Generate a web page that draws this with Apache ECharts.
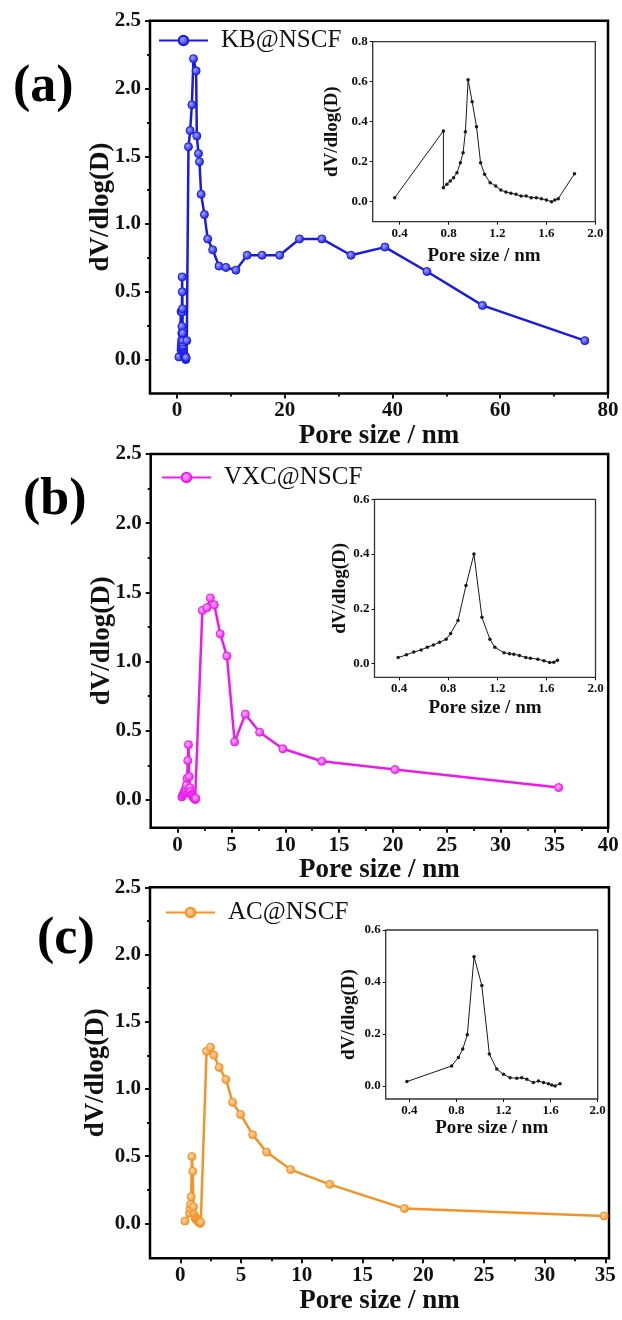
<!DOCTYPE html>
<html>
<head>
<meta charset="utf-8">
<script src="https://cdn.jsdelivr.net/npm/echarts@6/dist/echarts.min.js"></script>
<style>
  html, body { margin: 0; padding: 0; background: #fff; }
  #chart { width: 622px; height: 1320px; }
</style>
</head>
<body>
<div id="chart"></div>
<script>
// ---------- (a) KB@NSCF : pore size (nm) vs dV/dlog(D) ----------
const kbName = 'KB@NSCF';
const kbMicroX = [0.36, 0.758, 0.758, 0.787, 0.814, 0.841, 0.869, 0.897, 0.919, 0.938, 0.96, 0.993, 1.029, 1.062, 1.095, 1.14, 1.186, 1.228, 1.269, 1.31, 1.352, 1.393, 1.435, 1.476, 1.518, 1.559, 1.6, 1.642, 1.669, 1.697, 1.83];
const kbMicroY = [0.02, 0.354, 0.07, 0.087, 0.104, 0.12, 0.145, 0.195, 0.245, 0.35, 0.61, 0.50, 0.375, 0.195, 0.137, 0.095, 0.078, 0.058, 0.048, 0.042, 0.037, 0.028, 0.028, 0.02, 0.02, 0.015, 0.008, 0.0, 0.008, 0.015, 0.14];
const kbMesoX = [2.14, 2.45, 2.77, 3.07, 3.56, 3.69, 4.0, 4.18, 4.49, 5.1, 5.71, 6.63, 7.8, 9.1, 10.94, 13.03, 15.8, 19.06, 22.75, 26.9, 32.3, 38.6, 46.4, 56.7, 75.7];
const kbMesoY = [1.57, 1.69, 1.88, 2.22, 2.13, 1.65, 1.52, 1.46, 1.22, 1.07, 0.89, 0.81, 0.69, 0.68, 0.66, 0.77, 0.77, 0.77, 0.89, 0.89, 0.77, 0.83, 0.65, 0.40, 0.14];

// ---------- (b) VXC@NSCF ----------
const vxcName = 'VXC@NSCF';
const vxcMicroX = [0.393, 0.46, 0.52, 0.58, 0.63, 0.68, 0.73, 0.783, 0.82, 0.88, 0.945, 1.01, 1.075, 1.14, 1.18, 1.254, 1.3, 1.335, 1.38, 1.432, 1.47, 1.53, 1.58, 1.627, 1.66, 1.69];
const vxcMicroY = [0.022, 0.032, 0.042, 0.05, 0.06, 0.068, 0.078, 0.089, 0.11, 0.157, 0.285, 0.40, 0.169, 0.089, 0.06, 0.04, 0.036, 0.034, 0.03, 0.022, 0.02, 0.016, 0.01, 0.004, 0.005, 0.012];
const vxcMesoX = [2.3, 2.73, 3.04, 3.41, 3.96, 4.58, 5.3, 6.29, 7.62, 9.78, 13.4, 20.2, 35.4];
const vxcMesoY = [1.37, 1.39, 1.46, 1.41, 1.20, 1.04, 0.42, 0.62, 0.49, 0.37, 0.28, 0.22, 0.09];

// ---------- (c) AC@NSCF ----------
const acName = 'AC@NSCF';
const acMicroX = [0.38, 0.76, 0.817, 0.854, 0.893, 0.95, 1.016, 1.08, 1.143, 1.2, 1.256, 1.313, 1.355, 1.398, 1.454, 1.497, 1.54, 1.582, 1.61, 1.638, 1.68];
const acMicroY = [0.017, 0.077, 0.11, 0.142, 0.197, 0.497, 0.387, 0.123, 0.065, 0.045, 0.032, 0.03, 0.032, 0.026, 0.013, 0.019, 0.013, 0.009, 0.004, 0.0, 0.009];
const acMesoX = [2.16, 2.49, 2.77, 3.2, 3.76, 4.3, 4.96, 5.95, 7.1, 9.08, 12.3, 18.45, 34.9];
const acMesoY = [1.28, 1.31, 1.25, 1.16, 1.07, 0.90, 0.81, 0.66, 0.53, 0.40, 0.29, 0.11, 0.055];

// ---------- tick values ----------
const mainYLabels = [0, 0.5, 1.0, 1.5, 2.0, 2.5];
const mainYMinor = [0.25, 0.75, 1.25, 1.75, 2.25];
const kbXLabels = [0, 20, 40, 60, 80];
const kbXMinor = [10, 30, 50, 70];
const vxcXLabels = [0, 5, 10, 15, 20, 25, 30, 35, 40];
const vxcXMinor = [2.5, 7.5, 12.5, 17.5, 22.5, 27.5, 32.5, 37.5];
const acXLabels = [0, 5, 10, 15, 20, 25, 30, 35];
const acXMinor = [2.5, 7.5, 12.5, 17.5, 22.5, 27.5, 32.5];
const insetXLabels = [0.4, 0.8, 1.2, 1.6, 2.0];
const kbInsetYLabels = [0, 0.2, 0.4, 0.6, 0.8];
const insetYLabels = [0, 0.2, 0.4, 0.6];

const xTitle = 'Pore size / nm';
const yTitle = 'dV/dlog(D)';

const FONT = 'Liberation Serif';
const INK = '#111';

const zip = (xs, ys) => xs.map((x, i) => [x, ys[i]]);

const grids = [], xAxes = [], yAxes = [], series = [], legends = [], titles = [];

// Axis that carries the tick labels and the axis title (no tick marks of its own).
function labelAxis(gridIndex, o) {
  return {
    type: 'value', gridIndex, min: o.min, max: o.max, position: o.position,
    name: o.name, nameLocation: 'middle', nameGap: o.nameGap, nameMoveOverlap: false,
    nameTextStyle: { fontFamily: FONT, fontWeight: 'bold', fontSize: o.nameSize, color: INK },
    axisLine: { show: false, onZero: false },
    splitLine: { show: false },
    axisTick: { show: false },
    axisLabel: { show: true, customValues: o.labels, margin: o.margin, fontFamily: FONT, fontWeight: 'bold',
                 fontSize: o.labelSize, color: INK, formatter: o.fmt }
  };
}

// Tick-only axis sitting on the frame edge, ticks turned towards the plot.
function tickAxis(gridIndex, o) {
  return {
    type: 'value', gridIndex, min: o.min, max: o.max, position: o.position, offset: o.offset,
    axisLine: { show: false, onZero: false },
    splitLine: { show: false },
    axisLabel: { show: false },
    axisTick: { show: true, inside: true, length: o.len, customValues: o.ticks,
                lineStyle: { color: INK, width: o.width } }
  };
}

const fmt1 = v => Number(v).toFixed(1);
const fmt0 = v => String(Math.round(v));

function panel(p) {
  const m = p.main;
  // main plot
  const g = grids.length;
  grids.push({ left: m.left, top: m.top, width: m.width, height: m.height,
               show: true, borderColor: '#000', borderWidth: 2.5, backgroundColor: 'transparent' });
  const xi = xAxes.length;
  xAxes.push(labelAxis(g, { min: p.xMin, max: p.xMax, position: 'bottom', name: xTitle, nameGap: p.xNameGap,
    nameSize: 27, labels: p.xLabels, margin: 7, labelSize: 21, fmt: fmt0 }));
  xAxes.push(tickAxis(g, { min: p.xMin, max: p.xMax, position: 'top', offset: -m.height, ticks: p.xLabels, len: 5, width: 2 }));
  xAxes.push(tickAxis(g, { min: p.xMin, max: p.xMax, position: 'top', offset: -m.height, ticks: p.xMinor, len: 3, width: 2 }));
  const yi = yAxes.length;
  yAxes.push(labelAxis(g, { min: p.yMin, max: 2.5, position: 'left', name: yTitle, nameGap: p.yNameGap,
    nameSize: 27, labels: mainYLabels, margin: 9, labelSize: 21, fmt: fmt1 }));
  yAxes.push(tickAxis(g, { min: p.yMin, max: 2.5, position: 'right', offset: -m.width, ticks: mainYLabels, len: 5, width: 2 }));
  yAxes.push(tickAxis(g, { min: p.yMin, max: 2.5, position: 'right', offset: -m.width, ticks: mainYMinor, len: 3, width: 2 }));

  series.push({
    type: 'line', name: p.name, xAxisIndex: xi, yAxisIndex: yi,
    data: zip(p.microX.concat(p.mesoX), p.microY.concat(p.mesoY)),
    symbol: 'circle', symbolSize: 8, showSymbol: true,
    lineStyle: { color: p.color, width: 2.5 },
    itemStyle: {
      color: { type: 'radial', x: 0.4, y: 0.4, r: 0.6,
               colorStops: [{ offset: 0, color: p.light }, { offset: 1, color: p.color }] },
      borderColor: p.color, borderWidth: 1
    },
    emphasis: { disabled: true }, animation: false, z: 3
  });

  legends.push({
    show: true, left: p.legend.left, top: p.legend.top, padding: 0, itemGap: 0,
    itemWidth: 49, itemHeight: 12, selectedMode: false, data: [p.name],
    textStyle: { fontFamily: FONT, fontSize: 25, color: INK, padding: [0, 0, 0, 8] }
  });

  titles.push({ text: p.tag, left: p.tagPos.left, top: p.tagPos.top, padding: 0,
    textStyle: { fontFamily: FONT, fontWeight: 'bold', fontSize: 52, color: '#000' } });

  // inset: micropore region
  const n = p.inset;
  const gi = grids.length;
  grids.push({ left: n.left, top: n.top, width: n.width, height: n.height,
               show: true, borderColor: '#333', borderWidth: 1.3, backgroundColor: 'transparent' });
  const ixi = xAxes.length;
  xAxes.push(labelAxis(gi, { min: n.xMin, max: 2.0, position: 'bottom', name: xTitle, nameGap: n.xNameGap,
    nameSize: 19, labels: insetXLabels, margin: 5, labelSize: 13, fmt: fmt1 }));
  xAxes.push(tickAxis(gi, { min: n.xMin, max: 2.0, position: 'top', offset: -n.height, ticks: insetXLabels, len: 3, width: 1 }));
  const iyi = yAxes.length;
  yAxes.push(labelAxis(gi, { min: n.yMin, max: n.yMax, position: 'left', name: yTitle, nameGap: n.yNameGap,
    nameSize: 19, labels: n.yLabels, margin: 5, labelSize: 13, fmt: fmt1 }));
  yAxes.push(tickAxis(gi, { min: n.yMin, max: n.yMax, position: 'right', offset: -n.width, ticks: n.yLabels, len: 3, width: 1 }));

  series.push({
    type: 'line', name: p.name + ' micropores', xAxisIndex: ixi, yAxisIndex: iyi,
    data: zip(p.microX, p.microY),
    symbol: 'circle', symbolSize: 3.5, showSymbol: true,
    lineStyle: { color: '#1a1a1a', width: 1 },
    itemStyle: { color: '#1a1a1a' },
    emphasis: { disabled: true }, animation: false, z: 4
  });
}

panel({
  name: kbName, tag: '(a)', color: '#1a1ae6', light: '#9aa6ff',
  microX: kbMicroX, microY: kbMicroY, mesoX: kbMesoX, mesoY: kbMesoY,
  xMin: -5, xMax: 80, xLabels: kbXLabels, xMinor: kbXMinor, yMin: -0.25,
  xNameGap: 29, yNameGap: 35,
  main: { left: 150, top: 20.7, width: 458, height: 372.8 },
  legend: { left: 158, top: 28 },
  tagPos: { left: 13, top: 62 },
  inset: { left: 372.7, top: 41.7, width: 222.6, height: 180, xMin: 0.18, yMin: -0.1, yMax: 0.8,
           yLabels: kbInsetYLabels, xNameGap: 25, yNameGap: 31 }
});

panel({
  name: vxcName, tag: '(b)', color: '#ec1aec', light: '#ffb4ff',
  microX: vxcMicroX, microY: vxcMicroY, mesoX: vxcMesoX, mesoY: vxcMesoY,
  xMin: -2.5, xMax: 40, xLabels: vxcXLabels, xMinor: vxcXMinor, yMin: -0.2,
  xNameGap: 29, yNameGap: 35,
  main: { left: 150.7, top: 454, width: 457.5, height: 373.7 },
  legend: { left: 161, top: 465 },
  tagPos: { left: 23, top: 475 },
  inset: { left: 374.5, top: 499.3, width: 221, height: 178, xMin: 0.2, yMin: -0.05, yMax: 0.6,
           yLabels: insetYLabels, xNameGap: 21, yNameGap: 25 }
});

panel({
  name: acName, tag: '(c)', color: '#f39325', light: '#ffd7a8',
  microX: acMicroX, microY: acMicroY, mesoX: acMesoX, mesoY: acMesoY,
  xMin: -2.5, xMax: 35.3, xLabels: acXLabels, xMinor: acXMinor, yMin: -0.26,
  xNameGap: 29, yNameGap: 40,
  main: { left: 150, top: 887.3, width: 459, height: 371 },
  legend: { left: 165, top: 900 },
  tagPos: { left: 37, top: 914 },
  inset: { left: 385.7, top: 930, width: 212, height: 169, xMin: 0.2, yMin: -0.05, yMax: 0.6,
           yLabels: insetYLabels, xNameGap: 19.5, yNameGap: 27 }
});

const chart = echarts.init(document.getElementById('chart'), null, { renderer: 'canvas' });
chart.setOption({
  backgroundColor: '#fff',
  animation: false,
  title: titles,
  legend: legends,
  grid: grids,
  xAxis: xAxes,
  yAxis: yAxes,
  series: series
});
</script>
</body>
</html>
